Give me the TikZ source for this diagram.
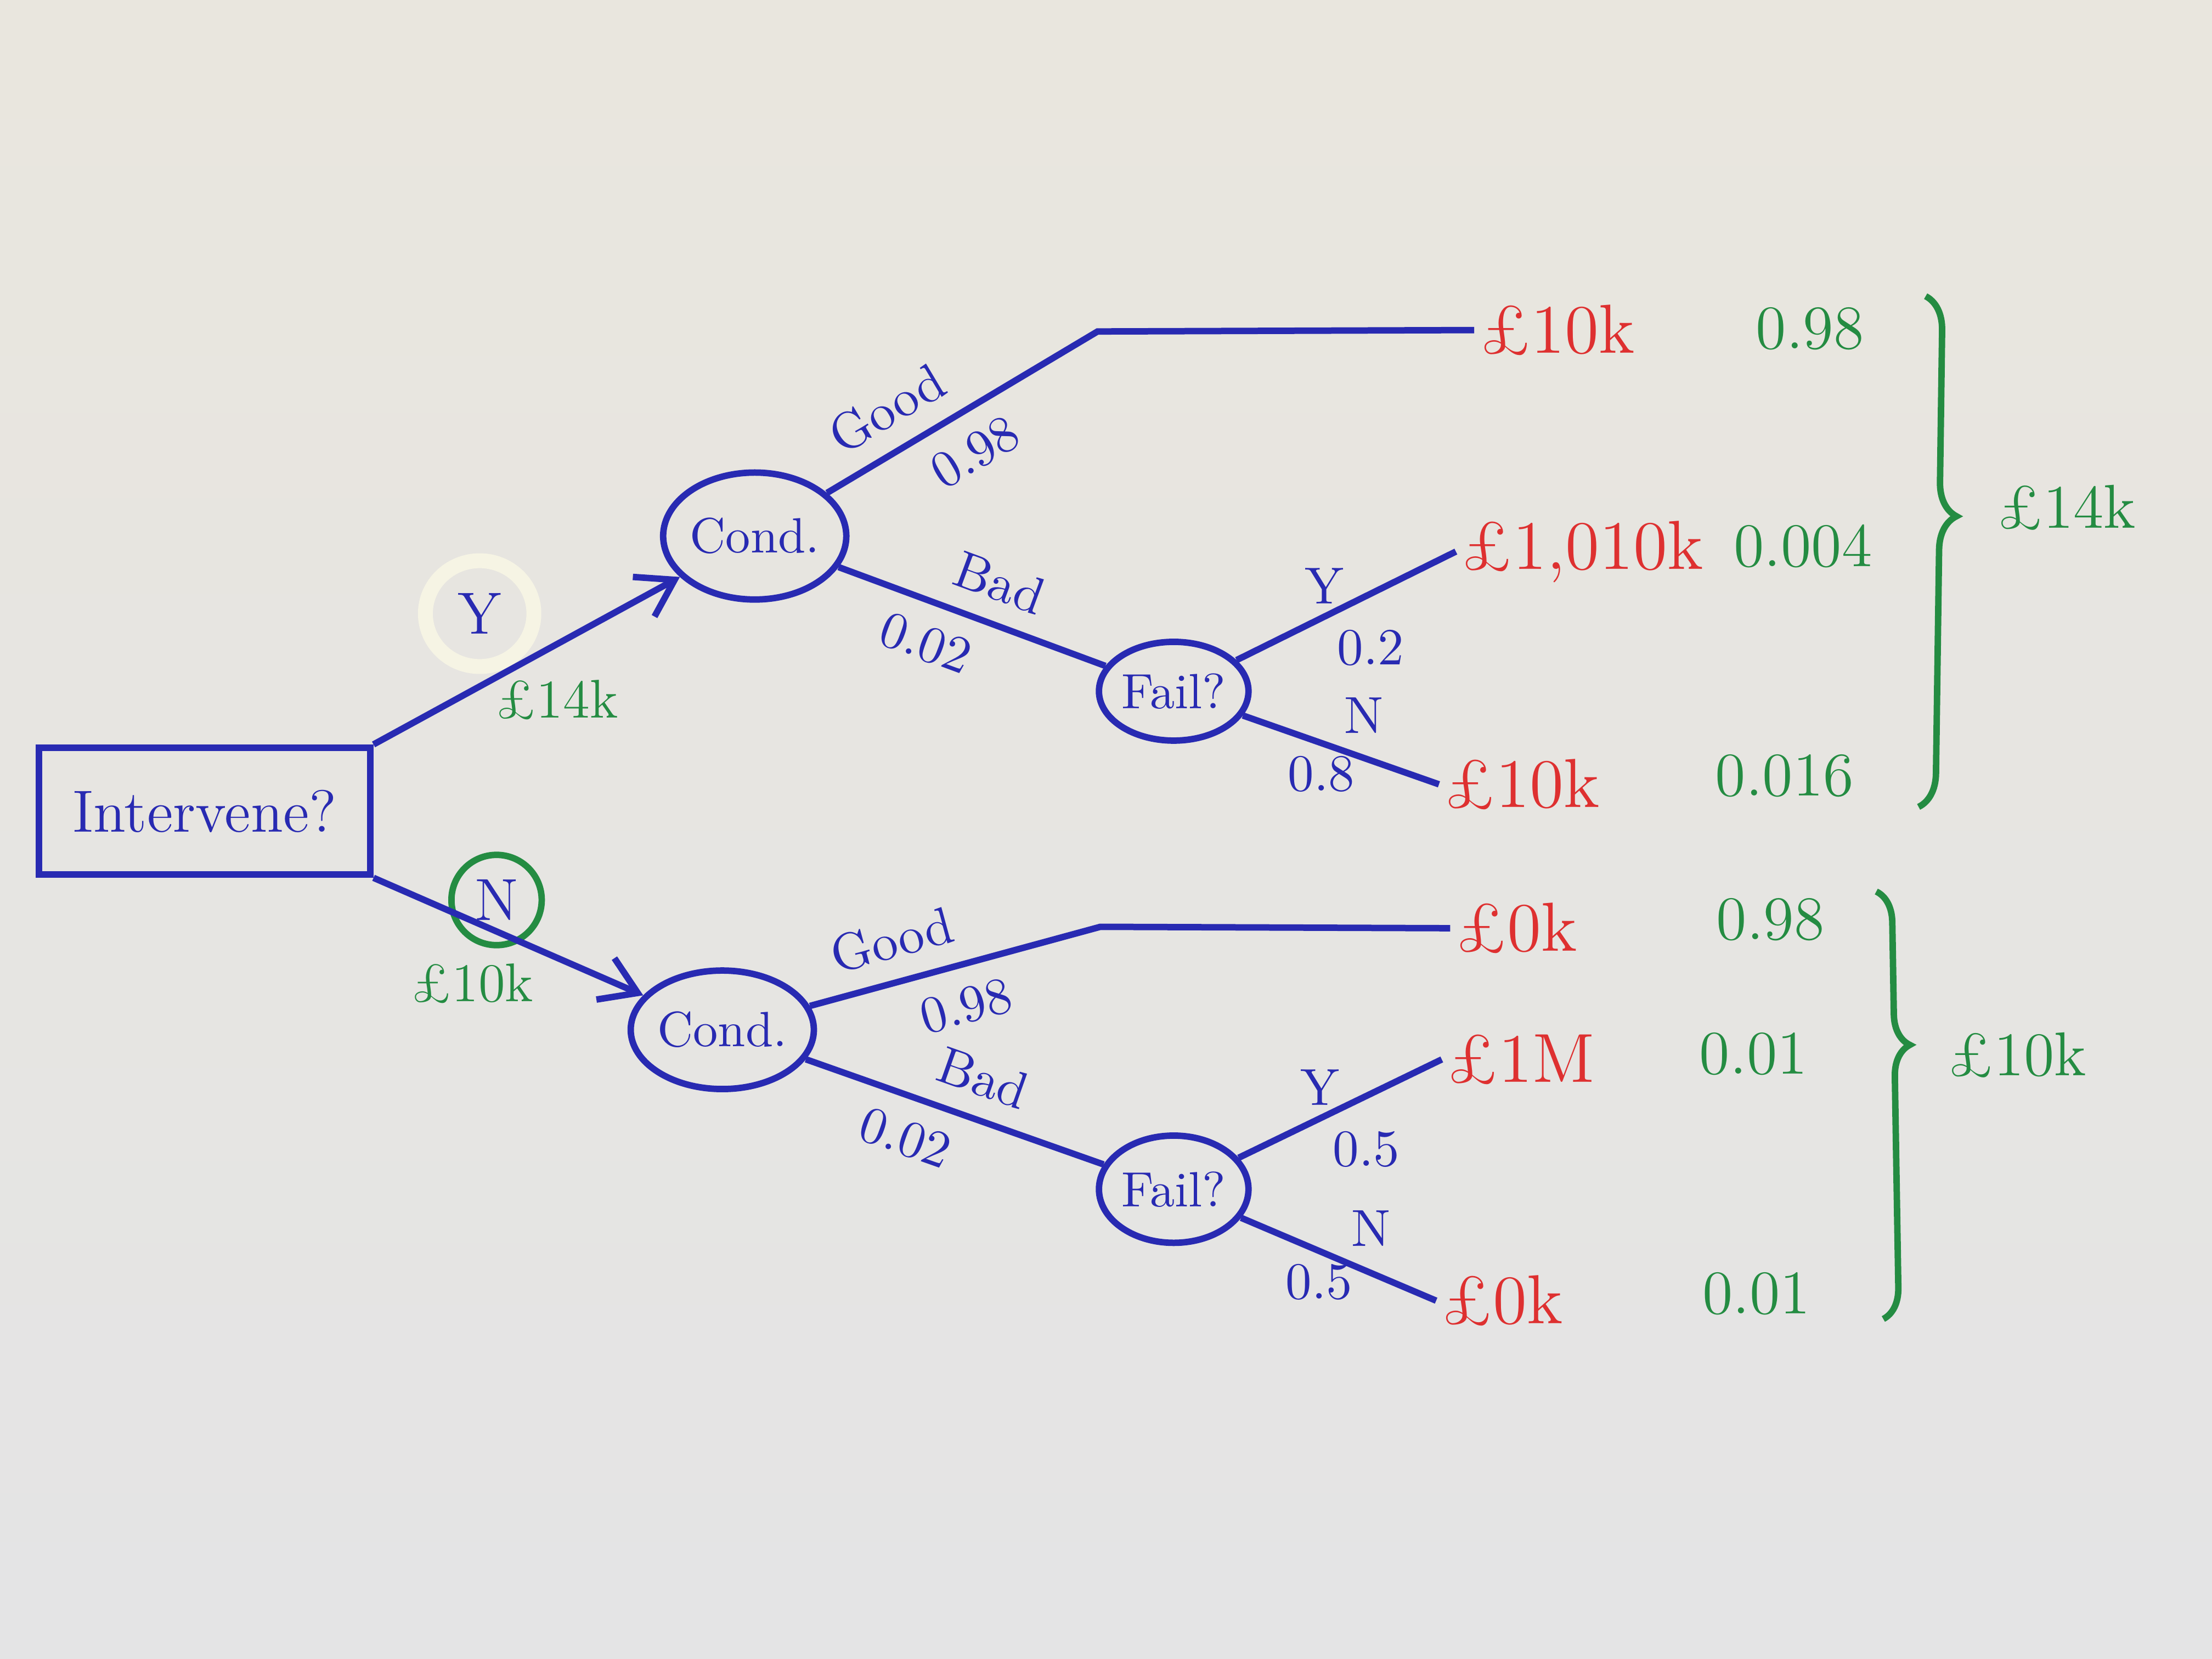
\documentclass[tikz,border=0pt]{standalone}
\usepackage{tikz}
\usetikzlibrary{arrows.meta,positioning,shapes.geometric,decorations.pathreplacing,calc}

\definecolor{pen}{RGB}{40,42,178}
\definecolor{redpen}{RGB}{222,48,48}
\definecolor{greenpen}{RGB}{36,140,66}
\definecolor{papertop}{RGB}{233,230,222}
\definecolor{paperbot}{RGB}{228,228,229}
\definecolor{hilite}{RGB}{246,244,228}

\begin{document}
\begin{tikzpicture}[
    decision/.style={draw=pen, line width=1.3pt, minimum width=2.35cm, minimum height=0.9cm, text=pen, font=\fontsize{12}{14}\selectfont},
    chance/.style={draw=pen, ellipse, line width=1.3pt, inner sep=0pt, text=pen, font=\fontsize{10}{12}\selectfont},
    branch/.style={draw=pen, line width=1.3pt},
    arrow/.style={branch, -{Straight Barb[length=2.5mm, width=3.2mm]}},
    lbl/.style={text=pen, font=\fontsize{10.5}{12}\selectfont, inner sep=2pt},
    payoff/.style={text=redpen, font=\fontsize{14}{16}\selectfont, anchor=west, inner sep=1pt},
    prob/.style={text=greenpen, font=\fontsize{12.5}{14}\selectfont},
    cost/.style={text=greenpen, font=\fontsize{11}{13}\selectfont},
    sumbrace/.style={draw=greenpen, line width=1.3pt, decorate},
    total/.style={text=greenpen, font=\fontsize{12.5}{14}\selectfont}
]
\useasboundingbox (0,0) rectangle (15.68,11.76);
\shade[top color=papertop, bottom color=paperbot] (0,0) rectangle (15.68,11.76);

\node[decision] (intervene) at (1.45,6.01) {Intervene?};

% intervene: yes
\node[chance, minimum width=1.24cm, minimum height=0.9cm] (condY) at (5.35,7.96) {Cond.};
\node[chance, minimum width=1.06cm, minimum height=0.7cm] (failY) at (8.32,6.86) {Fail?};
\coordinate (kinkY) at (7.78,9.41);
\node[payoff] (goodY) at (10.45,9.42) {£10k};
\node[payoff] (failYesY) at (10.32,7.85) {£1,010k};
\node[payoff] (failNoY) at (10.20,6.20) {£10k};
\node[ellipse, draw=hilite, line width=3pt, minimum width=0.6cm, minimum height=0.75cm, text=pen, font=\fontsize{12}{14}\selectfont] (yes) at (3.40,7.41) {Y};
\node[cost] (costY) at (3.95,6.80) {£14k};

\draw[arrow] (intervene.north east) -- (condY);
\draw[branch] (condY) -- node[lbl, sloped, above=2pt, pos=0.3] {Good} node[lbl, sloped, below=2pt, pos=0.47] {0.98} (kinkY) -- (goodY.west);
\draw[branch] (condY) -- node[lbl, sloped, above=2pt, pos=0.55] {Bad} node[lbl, sloped, below=2pt, pos=0.38] {0.02} (failY);
\draw[branch] (failY) -- node[lbl, above, pos=0.4] {Y} node[lbl, below right, pos=0.4] {0.2} (failYesY.west);
\draw[branch] (failY) -- node[lbl, above right, pos=0.45] {N} node[lbl, below, pos=0.4] {0.8} (failNoY.west);

\node[prob] (probA) at (12.83,9.43) {0.98};
\node[prob] (probB) at (12.78,7.89) {0.004};
\node[prob] (probC) at (12.65,6.26) {0.016};

\coordinate (braceYtop) at (13.65,9.66);
\coordinate (braceYbot) at (13.60,6.04);
\draw[sumbrace, decoration={brace, amplitude=0.24cm, aspect=0.43}] (braceYtop) -- (braceYbot);
\node[total] (totalY) at (14.65,8.16) {£14k};

% intervene: no
\node[chance, minimum width=1.16cm, minimum height=0.84cm] (condN) at (5.12,4.46) {Cond.};
\node[chance, minimum width=1.06cm, minimum height=0.76cm] (failN) at (8.32,3.33) {Fail?};
\coordinate (kinkN) at (7.80,5.19);
\node[payoff] (goodN) at (10.28,5.18) {£0k};
\node[payoff] (failYesN) at (10.22,4.25) {£1M};
\node[payoff] (failNoN) at (10.18,2.54) {£0k};
\node[circle, draw=greenpen, line width=1.3pt, minimum size=0.64cm, inner sep=0pt, text=pen, font=\fontsize{12}{14}\selectfont] (no) at (3.52,5.38) {N};
\node[cost] (costN) at (3.35,4.79) {£10k};

\draw[arrow] (intervene.south east) -- (condN);
\draw[branch] (condN) -- node[lbl, sloped, above=2pt, pos=0.32] {Good} node[lbl, sloped, below=2pt, pos=0.5] {0.98} (kinkN) -- (goodN.west);
\draw[branch] (condN) -- node[lbl, sloped, above=2pt, pos=0.55] {Bad} node[lbl, sloped, below=2pt, pos=0.38] {0.02} (failN);
\draw[branch] (failN) -- node[lbl, above, pos=0.4] {Y} node[lbl, below right, pos=0.4] {0.5} (failYesN.west);
\draw[branch] (failN) -- node[lbl, above right, pos=0.5] {N} node[lbl, below, pos=0.4] {0.5} (failNoN.west);

\node[prob] (probD) at (12.55,5.24) {0.98};
\node[prob] (probE) at (12.43,4.29) {0.01};
\node[prob] (probF) at (12.45,2.59) {0.01};

\coordinate (braceNtop) at (13.30,5.44);
\coordinate (braceNbot) at (13.35,2.41);
\draw[sumbrace, decoration={brace, amplitude=0.22cm, aspect=0.36}] (braceNtop) -- (braceNbot);
\node[total] (totalN) at (14.30,4.28) {£10k};
\end{tikzpicture}
\end{document}
